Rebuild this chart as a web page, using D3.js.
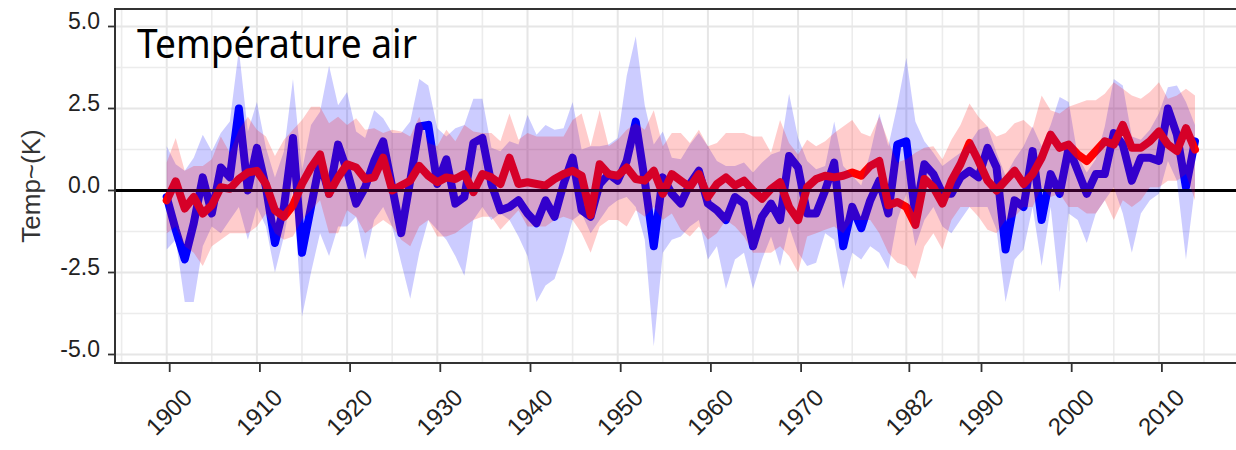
<!DOCTYPE html>
<html>
<head>
<meta charset="utf-8">
<script src="https://cdn.jsdelivr.net/npm/d3@7.9.0/dist/d3.min.js"></script>
<style>
  html, body { margin: 0; padding: 0; background: #fff; }
  svg { display: block; }
</style>
</head>
<body>
<svg id="chart" width="1236" height="450"></svg>
<script>
const years = d3.range(1900, 2015);

// blue series (line + band)
const blueLine = [
  -0.2, -1.2, -2.1, -1.0, 0.4, -0.7, 0.7, 0.4, 2.5, 0.0,
  1.3, 0.1, -1.6, -0.5, 1.6, -1.9, -0.5, 0.9, -0.1, 1.4,
  0.6, -0.4, 0.1, 0.9, 1.5, 0.1, -1.3, 0.3, 1.95, 2.0,
  0.2, 0.95, -0.4, -0.2, 1.45, 1.6, 0.2, -0.6, -0.5, -0.3,
  -0.7, -1.0, -0.3, -0.8, 0.2, 1.0, -0.6, -0.8, 0.2, 0.5,
  0.3, 0.9, 2.1, 0.3, -1.7, 0.4, -0.1, -0.4, 0.2, 0.6,
  -0.4, -0.6, -0.9, -0.2, -0.4, -1.7, -0.8, -0.4, -0.9, 1.05,
  0.7, -0.7, -0.7, 0.0, 0.85, -1.7, -0.5, -1.15, -0.3, 0.3,
  -0.7, 1.4, 1.5, -0.75, 0.8, 0.5, -0.1, -0.1, 0.4, 0.6,
  0.4, 1.3, 0.7, -1.8, -0.3, -0.5, 1.2, -0.9, 0.5, -0.1,
  1.3, 0.6, -0.1, 0.5, 0.5, 1.75, 1.4, 0.3, 1.0, 1.0,
  0.9, 2.5, 1.7, 0.1, 1.5
];
const blueHi = [
  1.35, 0.8, 0.6, 1.0, 1.7, 1.2, 1.75, 2.1, 4.3, 1.8,
  2.7, 1.3, 0.4, 1.2, 3.4, 0.6, 2.0, 2.4, 3.8, 2.6,
  3.0, 1.8, 1.6, 2.45, 2.2, 1.75, 1.75, 2.1, 3.4, 3.2,
  1.9, 1.65, 1.9, 2.0, 2.8, 2.8, 1.3, 1.2, 1.5, 1.4,
  2.3, 1.7, 2.0, 1.85, 1.9, 2.7, 1.25, 1.35, 1.35, 1.4,
  1.6, 3.5, 4.7, 2.6, 1.4, 1.8, 1.0, 0.95, 1.4, 1.75,
  1.35, 0.9, 0.75, 0.75, 0.85, 0.55, 0.85, 1.1, 1.2, 2.95,
  1.6, 0.9, 0.65, 0.75, 2.1, 0.75, 0.45, 0.15, 1.15, 2.35,
  1.35, 2.6, 4.05, 2.1, 1.5, 1.15, 0.75, 0.95, 1.15, 1.45,
  1.85, 1.95, 1.15, 0.45, 0.95, 1.35, 1.95, 1.35, 2.0, 2.85,
  2.7, 1.05, 0.55, 0.95, 1.95, 3.4, 3.2, 1.65, 1.55, 1.85,
  2.35, 3.15, 3.2, 2.7, 2.0
];
const blueLo = [
  -1.8, -1.5, -3.4, -3.4, -1.7, -1.1, -1.3, -0.9, -0.5, -1.5,
  -0.5, -1.1, -2.5, -1.4, 0.1, -3.85, -2.5, -1.3, -2.0, -1.1,
  -1.1, -0.8, -2.1, -0.9, -0.5, -1.1, -2.2, -3.3, -1.9, -0.9,
  -1.2, -1.5, -2.0, -2.6, -0.9, -0.5, -0.9, -0.7, -0.9, -1.4,
  -2.0, -3.4, -2.9, -2.7, -1.9, -0.9, -0.7, -1.3, -0.9, -0.5,
  -0.3, -0.2, -0.5, -1.5, -4.75, -1.9, -1.5, -1.4, -1.1, -0.9,
  -2.1, -1.7, -3.0, -2.1, -1.9, -3.0, -2.1, -1.4, -2.3, -1.1,
  -1.9, -2.3, -2.2, -1.3, -1.5, -3.0, -1.9, -2.1, -1.7, -1.9,
  -2.4, -0.9, -0.1, -1.7, -0.9, -0.5, -1.1, -1.3, -0.9, -0.5,
  -0.5, -0.5, -1.2, -3.4, -2.1, -1.8, -0.5, -2.3, -0.5, -3.1,
  -0.7, -0.9, -1.6, -0.7, -0.3, 0.1, -0.7, -1.9, -0.7, -0.3,
  -0.1, 0.9, 0.3, -2.1, 0.1
];

// red series (line + band)
const redLine = [
  -0.3, 0.28, -0.55, -0.2, -0.7, -0.45, 0.1, 0.05, 0.35, 0.55,
  0.6, 0.2, -0.6, -0.8, -0.45, 0.2, 0.7, 1.1, -0.1, 0.4,
  0.8, 0.7, 0.35, 0.4, 1.0, 0.0, 0.15, 0.3, 0.75, 0.45,
  0.25, 0.4, 0.35, 0.5, -0.05, 0.5, 0.4, 0.2, 1.0, 0.2,
  0.25, 0.2, 0.15, 0.35, 0.5, 0.6, 0.45, -0.75, 0.8, 0.5,
  0.45, 0.7, 0.35, 0.3, 0.6, -0.1, 0.5, 0.3, 0.1, 0.5,
  -0.2, 0.2, 0.4, 0.15, 0.3, 0.0, -0.25, 0.05, 0.25, -0.5,
  -0.9, 0.1, 0.35, 0.45, 0.4, 0.45, 0.55, 0.45, 0.75, 0.9,
  -0.45, -0.35, -0.5, -1.05, 0.35, 0.1, -0.4, 0.3, 0.8, 1.45,
  0.9, 0.3, 0.0, 0.3, 0.6, 0.2, 0.5, 1.0, 1.7, 1.3,
  1.4, 1.1, 0.9, 1.2, 1.5, 1.4, 2.0, 1.3, 1.3, 1.5,
  1.8, 1.4, 1.2, 1.9, 1.25
];
const redHi = [
  0.85, 1.6, 0.6, 0.75, 0.75, 0.95, 1.65, 1.15, 1.85, 2.25,
  1.85, 1.65, 1.05, 1.55, 1.85, 2.15, 2.55, 2.55, 2.05, 2.25,
  2.0, 2.2, 1.85, 1.9, 1.75, 1.85, 1.8, 1.65, 2.25, 1.45,
  1.35, 1.85, 1.5, 2.0, 1.8, 1.75, 1.75, 1.5, 2.35, 1.55,
  1.75, 1.65, 1.65, 1.65, 1.65, 2.15, 2.35, 1.35, 2.45, 1.35,
  1.55, 1.85, 2.05, 1.85, 2.45, 1.35, 1.75, 1.75, 1.45, 1.85,
  1.35, 1.45, 1.75, 1.75, 1.75, 1.65, 1.65, 1.15, 2.15, 1.45,
  1.1, 1.55, 1.35, 1.5, 1.75, 1.95, 2.15, 1.75, 1.65, 2.25,
  1.5, 0.85, 0.95, 1.15, 1.3, 1.35, 0.95, 1.55, 2.0, 2.65,
  2.25, 1.95, 1.65, 1.75, 2.05, 2.15, 1.9, 2.9, 2.45, 2.35,
  2.55, 2.65, 2.75, 2.75, 2.95, 3.3, 3.1, 2.9, 2.8, 3.0,
  3.3, 2.8, 2.9, 3.1, 2.9
];
const redLo = [
  -1.3, -1.1, -1.7, -1.9, -2.3, -1.7, -1.5, -1.3, -1.3, -1.3,
  -1.1, -0.7, -1.3, -1.5, -1.4, -0.9, -0.6, -0.3, -1.3, -1.3,
  -0.6, -0.8, -1.3, -1.1, -0.9, -1.1, -1.5, -1.7, -1.1, -0.9,
  -1.4, -1.4, -1.3, -1.1, -0.9, -0.8, -0.8, -1.2, -0.9, -0.6,
  -1.1, -1.1, -1.1, -0.9, -0.8, -0.9, -1.3, -1.9, -1.1, -0.9,
  -0.9, -1.1, -0.6, -0.8, -0.5, -0.9, -0.7, -1.2, -1.4, -1.1,
  -1.5, -1.3, -0.9, -1.1, -1.4, -1.9, -1.9, -1.9, -1.7, -2.0,
  -2.5, -1.4, -1.3, -1.2, -1.1, -1.3, -0.9, -0.9, -0.9, -1.3,
  -1.9, -2.2, -2.3, -2.7, -1.7, -1.3, -1.8, -0.9, -0.5, -0.5,
  -0.8, -1.2, -1.3, -0.9, -0.8, -0.5, -0.5, 0.1, -0.2, -0.1,
  -0.5, -0.5, -0.7, -0.7, -0.3, -0.9, -0.3, -0.5, -0.3, 0.1,
  0.1, 0.3, 0.3, 0.5, -0.3
];

// axes
const xTicks = [1900, 1910, 1920, 1930, 1940, 1950, 1960, 1970, 1982, 1990, 2000, 2010];
const yTicks = [-5, -2.5, 0, 2.5, 5];

const panel = { left: 115, right: 1242, top: 9, bottom: 363 };

const x = d3.scaleLinear().domain([1900, 2010]).range([166.7, 1158.9]);
const y = d3.scaleLinear().domain([-5, 5]).range([354.5, 26.5]);

// minor breaks sit halfway between major ones (ggplot style)
let xMajor = [1890, ...xTicks, 2020];
let xMinor = d3.pairs(xMajor).map(([a, b]) => (a + b) / 2);
let yMajor = [-7.5, ...yTicks, 7.5];
let yMinor = d3.pairs(yMajor).map(([a, b]) => (a + b) / 2);

const svg = d3.select("#chart");

svg.append("defs").append("clipPath").attr("id", "clip")
  .append("rect")
  .attr("x", panel.left).attr("y", panel.top)
  .attr("width", panel.right - panel.left)
  .attr("height", panel.bottom - panel.top);

let grid = svg.append("g").attr("clip-path", "url(#clip)");
grid.selectAll(".vmin").data(xMinor).join("line")
  .attr("x1", (d) => x(d)).attr("x2", (d) => x(d))
  .attr("y1", panel.top).attr("y2", panel.bottom)
  .attr("stroke", "#ececec").attr("stroke-width", 1.6);
grid.selectAll(".vmaj").data(xTicks).join("line")
  .attr("x1", (d) => x(d)).attr("x2", (d) => x(d))
  .attr("y1", panel.top).attr("y2", panel.bottom)
  .attr("stroke", "#e6e6e6").attr("stroke-width", 2);
grid.selectAll(".hmin").data(yMinor).join("line")
  .attr("x1", panel.left).attr("x2", panel.right)
  .attr("y1", (d) => y(d)).attr("y2", (d) => y(d))
  .attr("stroke", "#ececec").attr("stroke-width", 1.6);
grid.selectAll(".hmaj").data(yTicks).join("line")
  .attr("x1", panel.left).attr("x2", panel.right)
  .attr("y1", (d) => y(d)).attr("y2", (d) => y(d))
  .attr("stroke", "#e6e6e6").attr("stroke-width", 2);

let plot = svg.append("g").attr("clip-path", "url(#clip)");

let line = (vals) =>
  d3.line().x((d, i) => x(years[i])).y((d) => y(d))(vals);
let band = (lo, hi) =>
  d3.area()
    .x((d, i) => x(years[i]))
    .y0((d, i) => y(lo[i]))
    .y1((d, i) => y(hi[i]))(years);

// lines first, then the zero line, then the translucent bands on top
plot.append("path").attr("d", line(blueLine))
  .attr("fill", "none").attr("stroke", "#0000ff")
  .attr("stroke-width", 8).attr("stroke-linejoin", "round")
  .attr("stroke-linecap", "round");
plot.append("path").attr("d", line(redLine))
  .attr("fill", "none").attr("stroke", "#ff0000")
  .attr("stroke-width", 8).attr("stroke-linejoin", "round")
  .attr("stroke-linecap", "round");

plot.append("line")
  .attr("x1", panel.left).attr("x2", panel.right)
  .attr("y1", y(0)).attr("y2", y(0))
  .attr("stroke", "#000").attr("stroke-width", 3);

plot.append("path").attr("d", band(blueLo, blueHi))
  .attr("fill", "#0000ff").attr("fill-opacity", 0.2);
plot.append("path").attr("d", band(redLo, redHi))
  .attr("fill", "#ff0000").attr("fill-opacity", 0.2);

// panel border
svg.append("rect")
  .attr("x", panel.left).attr("y", panel.top)
  .attr("width", panel.right - panel.left)
  .attr("height", panel.bottom - panel.top)
  .attr("fill", "none").attr("stroke", "#333").attr("stroke-width", 2);

// y axis (plain hyphen for negatives, as in the original)
let fmtY = (d) => d3.format(".1f")(d).replace("\u2212", "-");
svg.selectAll(".ytick").data(yTicks).join("line")
  .attr("x1", panel.left - 7).attr("x2", panel.left)
  .attr("y1", (d) => y(d)).attr("y2", (d) => y(d))
  .attr("stroke", "#333").attr("stroke-width", 1.8);
svg.selectAll(".ylab").data(yTicks).join("text")
  .attr("x", 100).attr("y", (d) => y(d) + 2)
  .attr("text-anchor", "end")
  .attr("font-family", "Liberation Sans, Arial, sans-serif")
  .attr("font-size", 23).attr("fill", "#222")
  .text(fmtY);

svg.append("text")
  .attr("transform", "translate(40,186) rotate(-90)")
  .attr("text-anchor", "middle")
  .attr("font-family", "Liberation Sans, Arial, sans-serif")
  .attr("font-size", 26).attr("fill", "#333")
  .text("Temp~(K)");

// x axis
svg.selectAll(".xtick").data(xTicks).join("line")
  .attr("x1", (d) => x(d) + 3).attr("x2", (d) => x(d) + 3)
  .attr("y1", panel.bottom + 1).attr("y2", panel.bottom + 9)
  .attr("stroke", "#333").attr("stroke-width", 1.8);
svg.selectAll(".xlab").data(xTicks).join("text")
  .attr("transform", (d) => `translate(${x(d) + 27},399) rotate(-45)`)
  .attr("text-anchor", "end")
  .attr("font-family", "Liberation Sans, Arial, sans-serif")
  .attr("font-size", 24).attr("fill", "#222")
  .text((d) => d);

// title inside the panel
svg.append("text")
  .attr("x", 137).attr("y", 58)
  .attr("font-family", "Noto Sans, Open Sans, sans-serif")
  .attr("font-size", 40).attr("fill", "#000")
  .attr("textLength", 280).attr("lengthAdjust", "spacingAndGlyphs")
  .text("Température air");
</script>
</body>
</html>
